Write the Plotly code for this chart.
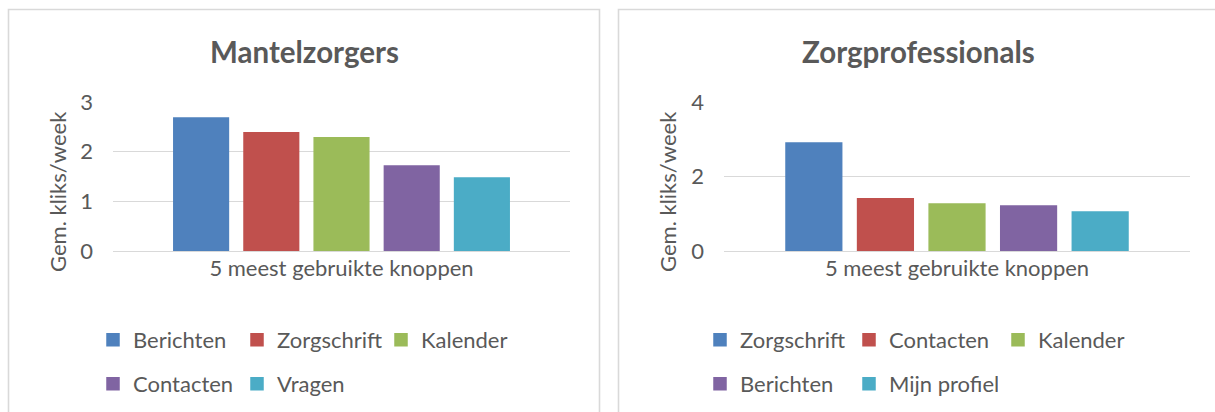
import plotly.graph_objects as go

W, H = 1215, 412

category = ["5 meest gebruikte knoppen"]

left_title = "Mantelzorgers"
left_names = ["Berichten", "Zorgschrift", "Kalender", "Contacten", "Vragen"]
left_values = [2.68, 2.38, 2.28, 1.71, 1.47]

right_title = "Zorgprofessionals"
right_names = ["Zorgschrift", "Contacten", "Kalender", "Berichten", "Mijn profiel"]
right_values = [2.90, 1.40, 1.26, 1.21, 1.05]

y_title = "Gem. kliks/week"
colors = ["#4F81BD", "#C0504D", "#9BBB59", "#8064A2", "#4BACC6"]

FONT = "Lato, Calibri, sans-serif"
TXT = "#595959"
GRID = "#D9D9D9"
FS = 22

def px(x):
    return x / W

def py(y):
    return 1 - y / H

fig = go.Figure()

# legend assignment: first 3 in row 1, last 2 in row 2
left_leg = ["legend", "legend", "legend", "legend2", "legend2"]
right_leg = ["legend3", "legend3", "legend3", "legend4", "legend4"]

for i, (n, v) in enumerate(zip(left_names, left_values)):
    fig.add_trace(go.Bar(x=category, y=[v], name=n,
                         marker=dict(color=colors[i], line=dict(color=colors[i], width=1.5)),
                         xaxis="x", yaxis="y", legend=left_leg[i]))
for i, (n, v) in enumerate(zip(right_names, right_values)):
    fig.add_trace(go.Bar(x=category, y=[v], name=n,
                         marker=dict(color=colors[i], line=dict(color=colors[i], width=1.5)),
                         xaxis="x2", yaxis="y2", legend=right_leg[i]))

ydom = [py(251), py(102)]
axis_font = dict(family=FONT, size=FS, color=TXT)

common_x = dict(showgrid=False, zeroline=False, showline=False, ticks="",
                tickfont=axis_font, ticklabelstandoff=2, fixedrange=True,
                automargin=False)
common_y = dict(showgrid=True, gridcolor=GRID, gridwidth=1.3, zeroline=True,
                zerolinecolor=GRID, zerolinewidth=1.3, showline=False, ticks="",
                tickfont=axis_font, ticklabelstandoff=19, fixedrange=True,
                automargin=False)

leg_common = dict(orientation="h", font=dict(family=FONT, size=FS, color=TXT),
                  bgcolor="rgba(0,0,0,0)", xanchor="left", yanchor="middle",
                  itemclick=False, itemdoubleclick=False, traceorder="normal",
                  itemwidth=30)

ytitle_font = dict(family=FONT, size=FS, color=TXT)

fig.update_layout(
    width=W, height=H,
    margin=dict(l=0, r=0, t=0, b=0, autoexpand=False),
    paper_bgcolor="white", plot_bgcolor="white",
    barmode="group", bargap=0.232, bargroupgap=0.222,
    showlegend=True,
    xaxis=dict(domain=[px(113), px(570)], anchor="y", **common_x),
    yaxis=dict(domain=ydom, anchor="x", range=[0, 3], dtick=1, **common_y),
    xaxis2=dict(domain=[px(724), px(1190)], anchor="y2", **common_x),
    yaxis2=dict(domain=ydom, anchor="x2", range=[0, 4], dtick=2, **common_y),
    legend=dict(x=px(93), y=py(340), entrywidth=99, **leg_common),
    legend2=dict(x=px(93), y=py(384), entrywidth=99, **leg_common),
    legend3=dict(x=px(700), y=py(340), entrywidth=104, **leg_common),
    legend4=dict(x=px(700), y=py(384), entrywidth=104, **leg_common),
    annotations=[
        dict(text="<b>" + left_title + "</b>", x=px(304), y=py(51), xref="paper", yref="paper",
             showarrow=False, xanchor="center", yanchor="middle",
             font=dict(family=FONT, size=29.5, color=TXT)),
        dict(text="<b>" + right_title + "</b>", x=px(918), y=py(51), xref="paper", yref="paper",
             showarrow=False, xanchor="center", yanchor="middle",
             font=dict(family=FONT, size=29.5, color=TXT)),
        dict(text=y_title, x=px(57), y=py(192), xref="paper", yref="paper",
             showarrow=False, xanchor="center", yanchor="middle", textangle=-90,
             font=ytitle_font),
        dict(text=y_title, x=px(667), y=py(192), xref="paper", yref="paper",
             showarrow=False, xanchor="center", yanchor="middle", textangle=-90,
             font=ytitle_font),
    ],
    shapes=[
        dict(type="rect", xref="paper", yref="paper", x0=px(8.5), x1=px(599.5),
             y0=py(440), y1=py(9.5), line=dict(color=GRID, width=1.6)),
        dict(type="rect", xref="paper", yref="paper", x0=px(618.5), x1=px(1240),
             y0=py(440), y1=py(9.5), line=dict(color=GRID, width=1.6)),
    ],
)

fig.write_html("out.html", post_script="document.body.style.margin='0';",
               config={"displayModeBar": False})
